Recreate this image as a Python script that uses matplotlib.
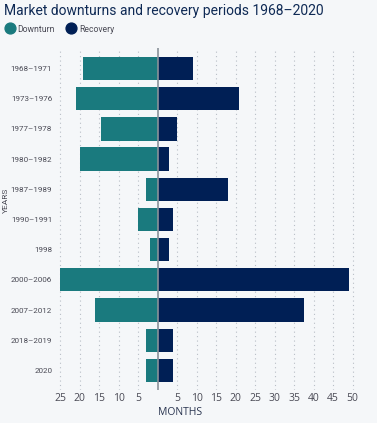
import numpy as np
import matplotlib
matplotlib.use("Agg")
import matplotlib.pyplot as plt
from matplotlib.lines import Line2D

# Datos (meses)
periods = ["1968–1971", "1973–1976", "1977–1978", "1980–1982", "1987–1989",
           "1990–1991", "1998", "2000–2006", "2007–2012", "2018–2019", "2020"]
downturn = [19, 21, 14.5, 20, 3, 5, 2, 25, 16, 3, 3]
recovery = [9, 21, 5, 3, 18, 4, 3, 49, 37.5, 4, 4]
xticks = [-25, -20, -15, -10, -5, 5, 10, 15, 20, 25, 30, 35, 40, 45, 50]

TEAL = "#1a7a7e"
NAVY = "#001f55"
BG = "#f5f7f9"
TXT = "#4a4a55"

plt.rcParams['font.family'] = ['Open Sans', 'DejaVu Sans']
NARROW = ['Roboto', 'DejaVu Sans']

fig = plt.figure(figsize=(3.77, 4.23), dpi=100, facecolor=BG)
W, H = 377, 423
top, bot = 48, 390
ax = fig.add_axes([52.2 / W, 1 - bot / H, (360.3 - 52.2) / W, (bot - top) / H])
ax.set_facecolor(BG)

y = np.arange(len(periods))
ax.barh(y, [-d for d in downturn], height=0.77, color=TEAL, zorder=3)
ax.barh(y, recovery, height=0.77, color=NAVY, zorder=3)

ax.set_xlim(-27, 52)
ax.set_ylim(10.65, -0.68)

for xv in xticks:
    ax.axvline(xv, color="#b8bec6", lw=0.8, ls=(0, (1, 3)), zorder=1)
ax.axvline(0, color="#8a9299", lw=1.2, zorder=4)

ax.set_xticks(xticks)
ax.set_xticklabels([str(abs(v)) for v in xticks], fontsize=7.5, color=TXT)
ax.set_yticks(y)
ax.set_yticklabels(periods, family=NARROW, fontsize=5.8, color=TXT)
ax.tick_params(axis='x', length=0, pad=2.5)
ax.tick_params(axis='y', length=0, pad=0)
for s in ax.spines.values():
    s.set_visible(False)

ax.text(0, -(412 - bot) / (bot - top), "MONTHS", transform=ax.get_xaxis_transform(),
        ha="left", va="center", fontsize=7.5, color="#2a3550")
fig.text(6 / W, 1 - 200 / H, "YEARS", rotation=90, ha="center", va="center",
         family=NARROW, fontsize=6, color=TXT)

fig.text(4 / W, 1 - 11 / H, "Market downturns and recovery periods 1968–2020",
         ha="left", va="center", fontsize=10, family=['Roboto', 'DejaVu Sans'],
         color="#0f2a55")

handles = [Line2D([], [], marker="o", ls="", color=TEAL, markersize=7.8),
           Line2D([], [], marker="o", ls="", color=NAVY, markersize=7.8)]
leg = fig.legend(handles, ["Downturn", "Recovery"], loc="center left",
                 bbox_to_anchor=(-0.006, 1 - 29 / H), ncol=2, frameon=False,
                 handlelength=1.2, handletextpad=0.3, columnspacing=1.3, borderpad=0.3,
                 prop={"family": NARROW, "size": 6.2})
for t in leg.get_texts():
    t.set_color(TXT)

fig.savefig("out.png", dpi=100, facecolor=BG)
